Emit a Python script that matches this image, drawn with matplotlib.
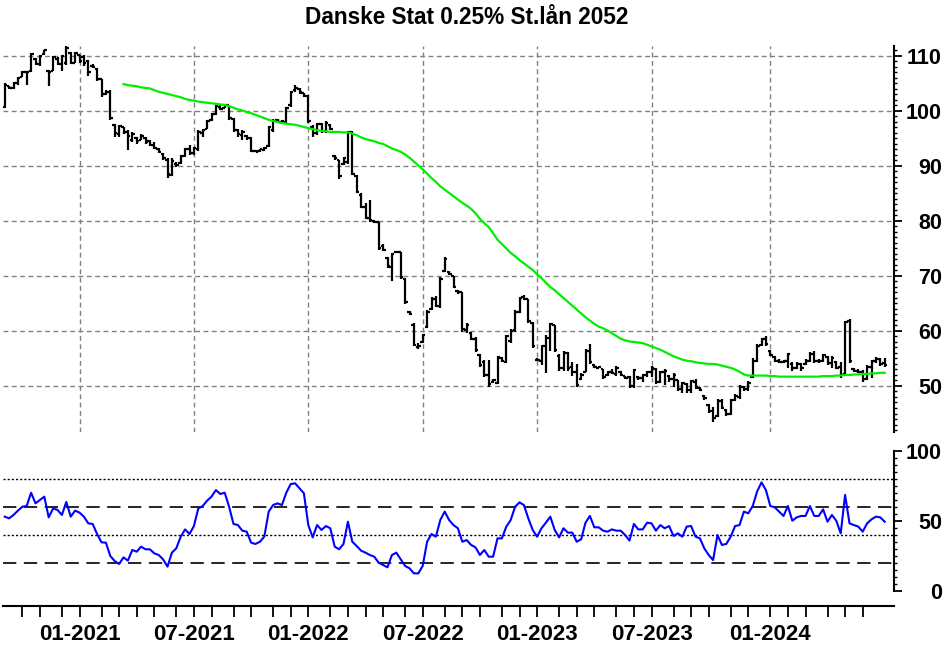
import matplotlib
matplotlib.use('Agg')
import matplotlib.pyplot as plt
import numpy as np
import pandas as pd

plt.rcParams['font.family'] = ['Liberation Sans', 'DejaVu Sans']

title = "Danske Stat 0.25% St.lån 2052"
start_date = "2020-09-06"   # weekly bars

high = [105.0,104.6,105.2,106.2,107.2,107.2,110.5,109.6,110.2,111.1,
        107.5,110.0,109.9,110.2,111.8,110.8,110.8,110.2,110.2,109.3,
        108.5,107.8,105.9,103.8,103.8,97.6,97.5,97.0,96.5,96.1,
        95.3,95.9,95.3,94.8,94.4,93.2,92.3,91.4,91.4,90.8,
        92.0,93.2,93.8,93.5,96.5,96.8,98.4,99.6,101.1,101.1,
        101.1,101.1,98.7,96.8,96.5,95.6,95.2,92.9,93.1,93.5,
        97.2,98.5,98.5,98.4,100.8,103.7,104.7,104.1,103.3,102.9,
        97.5,97.9,97.9,98.1,97.6,92.0,91.1,91.7,96.4,96.4,
        88.4,85.0,83.2,83.8,80.2,79.9,75.9,73.5,74.2,74.4,
        74.4,69.7,63.7,61.4,57.8,59.5,63.8,66.1,66.3,69.9,
        73.5,70.9,70.0,67.4,67.0,61.4,59.8,58.9,55.8,54.7,
        54.7,51.2,55.5,55.3,59.3,60.3,63.8,66.2,66.5,65.9,
        61.7,55.0,57.5,59.3,61.4,61.1,55.8,56.3,56.1,54.3,
        54.0,52.3,56.7,57.7,54.0,53.7,53.1,52.8,53.1,53.6,
        52.8,51.9,51.9,53.1,51.9,52.2,52.8,53.6,53.3,52.8,
        53.0,52.0,52.3,51.1,50.8,50.5,51.1,51.3,49.8,48.3,
        46.7,46.1,47.6,47.6,45.8,47.6,48.5,50.1,50.0,50.9,
        55.1,57.6,58.7,59.0,56.6,55.4,54.9,54.7,56.0,54.3,
        54.3,54.2,54.9,56.1,56.3,54.9,55.9,55.4,55.4,54.5,
        54.3,61.9,62.2,53.2,53.0,52.9,53.8,54.8,55.2,55.0,
        55.1]
low = [100.5,104.0,104.0,104.8,106.1,104.7,107.0,108.4,108.2,110.2,
       104.6,107.2,108.4,107.3,108.4,108.5,108.7,108.7,108.1,106.4,
       107.8,105.5,102.6,102.9,98.4,95.3,95.3,95.8,92.9,94.4,
       94.0,94.7,94.0,93.6,93.0,92.4,91.1,87.9,88.2,89.9,
       90.4,91.7,92.0,92.0,92.8,95.3,96.7,98.1,99.3,100.2,
       100.5,98.4,96.2,95.2,94.7,94.7,92.6,92.5,92.6,92.8,
       93.5,96.1,97.8,97.8,97.9,100.8,103.5,103.1,102.5,97.9,
       95.3,95.6,96.0,96.0,96.6,91.1,87.6,90.2,90.4,88.4,
       85.0,82.3,80.3,79.9,79.7,74.7,74.5,71.4,69.0,74.2,
       69.5,64.9,62.9,57.2,56.7,57.8,60.5,63.8,64.3,64.2,
       70.8,70.2,67.8,66.8,59.9,59.7,58.4,56.2,53.4,51.7,
       49.8,50.5,50.4,54.4,54.1,57.8,59.9,63.2,65.6,61.5,
       56.9,54.6,53.8,52.3,56.3,56.1,52.8,52.8,52.8,51.9,
       49.8,51.0,52.5,54.0,53.3,53.2,51.3,51.9,52.1,51.9,
       51.8,51.3,49.6,49.6,51.0,50.7,51.6,51.6,50.3,50.5,
       50.2,50.8,49.9,49.0,48.8,48.8,48.7,49.4,49.0,47.5,
       45.1,43.4,44.3,45.8,44.6,44.7,47.3,47.6,49.1,49.1,
       51.5,54.3,57.2,57.3,55.4,54.3,54.1,54.1,53.3,52.8,
       53.0,52.8,53.9,54.3,54.2,54.2,54.3,53.9,53.3,53.0,
       51.5,52.2,54.2,52.6,52.3,50.8,51.1,51.4,54.2,53.6,
       53.5]
open_ = [100.8,104.6,104.2,105.0,106.2,107.0,107.2,109.5,108.6,110.4,
         107.3,107.3,109.5,108.6,108.8,110.5,108.8,110.2,109.8,109.0,
         108.2,107.6,105.8,103.0,103.5,97.4,95.8,97.0,96.2,94.8,
         95.0,94.8,95.0,94.5,93.8,93.0,92.2,91.0,88.4,90.4,
         90.5,91.8,93.0,92.4,93.0,96.0,96.8,98.3,99.5,100.8,
         100.6,101.0,98.5,96.5,95.6,95.4,95.0,92.7,92.7,92.9,
         93.6,96.5,98.3,98.0,98.0,101.0,103.8,104.0,103.2,102.7,
         97.0,96.0,97.6,96.4,97.4,91.8,91.0,90.4,90.8,96.2,
         88.2,84.8,82.6,80.5,80.0,79.8,75.5,73.3,71.6,74.3,
         74.3,69.5,63.5,61.0,57.0,58.0,60.7,64.0,65.8,64.6,
         70.9,70.8,70.0,67.2,67.0,60.2,59.6,58.6,55.6,54.4,
         52.0,50.8,50.6,55.0,54.3,58.2,60.2,63.5,66.2,65.8,
         61.5,54.8,54.6,57.3,58.8,61.0,55.5,53.3,56.0,53.5,
         52.5,51.2,52.6,56.4,53.8,53.3,53.0,52.0,52.6,52.2,
         52.6,51.8,51.6,50.0,51.6,51.4,52.0,52.5,53.0,50.8,
         52.5,51.8,51.2,51.0,49.4,50.3,49.2,50.8,49.6,48.2,
         46.5,45.5,44.5,47.2,45.6,45.0,47.5,48.0,49.8,49.4,
         51.6,54.6,57.4,58.6,56.4,55.2,54.6,54.3,54.5,54.0,
         53.3,54.0,54.0,54.6,55.9,54.6,54.5,55.2,54.2,54.4,
         53.4,52.2,61.8,53.0,52.8,52.5,51.2,53.5,54.6,54.9,
         54.2]
close = [104.8,104.2,105.0,106.0,107.0,107.1,110.3,108.6,110.0,111.0,
         107.0,109.8,108.6,110.0,111.5,108.8,110.6,109.0,108.8,107.0,
         108.0,105.8,103.0,103.5,98.8,96.0,97.2,96.2,95.5,95.8,
         94.5,95.5,94.3,93.8,93.2,92.6,91.4,88.5,90.9,90.2,
         91.8,93.0,92.4,93.2,96.2,96.6,98.2,99.4,100.9,100.4,
         101.0,98.8,96.5,95.8,96.2,95.0,92.8,92.6,93.0,93.3,
         97.0,98.2,98.0,98.2,100.6,103.5,104.2,103.4,102.8,98.2,
         96.0,97.7,96.3,97.9,96.8,91.4,88.2,91.5,96.2,88.6,
         85.3,82.6,80.6,80.2,79.9,75.0,74.8,71.8,74.0,74.3,
         69.8,65.2,63.0,57.5,57.2,59.2,63.5,65.8,64.6,69.5,
         73.0,70.4,68.0,67.0,60.3,61.0,58.6,56.5,53.8,52.0,
         50.3,51.0,55.2,54.6,59.0,60.0,63.5,66.0,65.8,61.8,
         57.2,54.8,57.3,58.8,61.2,56.5,53.3,56.0,53.2,52.5,
         50.2,52.0,56.4,54.3,53.5,53.5,51.6,52.6,52.3,53.3,
         52.0,51.5,50.0,52.9,51.4,52.0,52.5,53.3,50.8,52.5,
         52.8,51.2,52.0,49.4,50.5,49.2,50.9,49.8,49.2,47.8,
         45.4,44.2,47.3,46.0,45.0,47.4,48.2,49.8,49.4,50.6,
         54.6,57.3,58.5,57.6,55.6,54.6,54.3,54.5,55.8,53.2,
         54.0,53.2,54.6,55.9,54.6,54.5,55.7,54.2,55.0,53.3,
         52.0,61.7,54.5,52.8,52.5,51.2,53.5,54.6,54.9,54.0,
         53.8]

ma_start = 27
ma = [104.9,104.7,104.6,104.5,104.3,104.2,104.1,103.8,103.5,103.3,
      103.1,102.9,102.7,102.5,102.2,102.0,101.9,101.7,101.6,101.5,
      101.4,101.3,101.2,101.1,100.9,100.6,100.3,100.1,99.8,99.6,
      99.3,99.0,98.7,98.4,98.2,98.0,97.8,97.7,97.6,97.5,
      97.3,97.1,96.9,96.7,96.5,96.4,96.3,96.2,96.2,96.2,
      96.1,96.1,95.9,95.6,95.2,94.9,94.7,94.5,94.2,94.0,
      93.6,93.2,92.9,92.6,92.1,91.5,90.8,90.1,89.4,88.6,
      87.8,87.1,86.3,85.7,85.1,84.5,83.9,83.3,82.8,82.2,
      81.4,80.4,79.6,78.9,77.8,76.6,75.8,75.0,74.2,73.6,
      72.9,72.3,71.7,71.1,70.3,69.6,68.8,68.0,67.4,66.7,
      66.0,65.3,64.6,63.9,63.2,62.5,61.9,61.3,60.8,60.5,
      60.1,59.6,59.1,58.6,58.3,58.1,58.0,57.9,57.8,57.5,
      57.2,56.9,56.6,56.2,55.8,55.4,55.1,54.8,54.6,54.5,
      54.3,54.2,54.1,54.0,54.0,53.9,53.7,53.5,53.3,53.0,
      52.6,52.1,51.9,51.9,51.9,51.9,51.9,51.8,51.8,51.7,
      51.7,51.7,51.7,51.7,51.7,51.7,51.7,51.7,51.7,51.8,
      51.8,51.8,51.9,51.9,52.0,52.0,52.1,52.1,52.2,52.2,
      52.3,52.3,52.4,52.4]

rsi = [53.1,51.9,54.3,57.4,60.2,60.7,70.2,62.6,65.0,67.4,
       52.6,59.0,57.9,54.3,63.6,53.1,57.4,56.0,53.1,48.3,
       47.9,40.7,34.8,34.5,25.0,21.4,19.3,24.0,21.7,29.3,
       28.1,31.7,29.8,29.8,26.9,25.7,22.6,17.4,27.4,30.5,
       38.8,44.0,40.7,46.4,59.0,60.7,64.5,67.4,72.1,69.3,
       70.2,60.2,47.9,47.1,43.1,42.4,34.5,33.6,35.2,38.8,
       56.7,61.4,62.6,61.4,70.2,76.4,76.9,73.3,69.8,47.1,
       38.3,47.1,43.6,46.4,44.8,31.7,29.8,33.6,49.5,35.2,
       32.1,28.8,27.4,25.7,24.5,20.2,18.6,16.9,25.7,27.4,
       22.6,17.9,16.2,12.6,12.6,17.9,35.2,40.7,38.8,50.7,
       56.7,50.7,47.1,44.8,35.2,36.4,32.9,31.2,25.7,29.3,
       24.5,24.5,37.6,37.6,46.0,50.7,60.2,63.3,61.4,51.9,
       43.6,38.8,44.8,48.8,53.1,43.6,38.3,44.8,41.7,41.7,
       35.2,36.9,48.8,53.6,45.5,45.5,43.1,42.4,44.0,43.1,
       43.1,40.0,36.0,47.9,44.0,44.0,48.8,48.3,43.1,47.1,
       44.8,46.4,39.3,41.2,38.8,46.0,46.4,38.8,37.6,30.5,
       25.7,22.1,40.0,32.9,33.6,38.8,46.4,47.1,56.7,55.5,
       60.7,71.0,77.6,72.1,60.7,59.8,56.7,53.6,60.7,50.2,
       52.6,53.6,53.6,60.7,53.6,53.6,58.3,49.5,54.3,50.2,
       41.2,68.6,48.3,47.1,46.0,42.4,48.3,51.2,53.1,52.6,
       49.5]

rsi_dotted_levels = [80, 40]
rsi_dashed_levels = [60, 20]
price_ticks = [50, 60, 70, 80, 90, 100, 110]
rsi_ticks = [0, 50, 100]

# ---------------------------------------------------------------
n = len(close)
idx = np.arange(n)
dates = pd.date_range(start_date, periods=n, freq='7D')
# month boundaries (the final bar carries no tick in the source chart)
month_change = [i for i in range(1, n - 1) if dates[i].month != dates[i - 1].month]
major_idx = [i for i in month_change if dates[i].month in (1, 7)]
minor_idx = [i for i in month_change if dates[i].month not in (1, 7)]
major_lbl = [dates[i].strftime('%m-%Y') for i in major_idx]

W, H = 950, 650
fig = plt.figure(figsize=(W / 100, H / 100), dpi=100)

xl = ((3 - 4.7) / 4.4, (894 - 4.7) / 4.4)

ax1 = fig.add_axes([3 / W, 1 - 432 / H, 891 / W, (432 - 46) / H])
ax1.set_xlim(*xl)
ax1.set_ylim(110 - 376 / 5.5, 110 + 10 / 5.5)

grid_kw = dict(color='#808080', lw=1.0, ls=(0, (3.5, 2.5)), zorder=0)
for t in price_ticks:
    ax1.axhline(t, **grid_kw)
for i in major_idx:
    ax1.axvline(i, **grid_kw)

ax1.vlines(idx, low, high, color='black', lw=1.6, zorder=3)
ax1.hlines(open_, idx - 0.55, idx, color='black', lw=1.6, zorder=3)
ax1.hlines(close, idx, idx + 0.55, color='black', lw=1.6, zorder=3)

ax1.plot(np.arange(ma_start, ma_start + len(ma)), ma, color='#00ee00', lw=1.6, zorder=4)

for s in ['top', 'left', 'bottom']:
    ax1.spines[s].set_visible(False)
ax1.spines['right'].set_linewidth(1.5)
ax1.set_xticks([])
ax1.yaxis.tick_right()
ax1.set_yticks(price_ticks)
ax1.set_yticks(np.arange(42, 112, 1), minor=True)
ax1.tick_params(axis='y', which='major', length=5.5, width=1.3, pad=29,
                labelsize=15.5)
ax1.tick_params(axis='y', which='minor', length=2.5, width=1.0)
for lab in ax1.get_yticklabels():
    lab.set_fontweight('bold')
    lab.set_horizontalalignment('right')

# RSI panel
ax2 = fig.add_axes([3 / W, 1 - 606 / H, 891 / W, (606 - 446) / H])
ax2.set_xlim(*xl)
ax2.set_ylim((591 - 606) / 1.4, (591 - 446) / 1.4)
for lv in rsi_dotted_levels:
    ax2.axhline(lv, color='black', lw=1.0, ls=(0, (1.5, 1.5)), zorder=1)
for lv in rsi_dashed_levels:
    ax2.axhline(lv, color='black', lw=1.2, ls=(0, (8, 4.5)), zorder=1)
ax2.plot(idx, rsi, color='#0000ff', lw=1.5, zorder=3)

for s in ['top', 'left']:
    ax2.spines[s].set_visible(False)
ax2.spines['right'].set_bounds(0, 100)
ax2.spines['right'].set_linewidth(1.5)
ax2.spines['bottom'].set_linewidth(1.5)
ax2.yaxis.tick_right()
ax2.set_yticks(rsi_ticks)
ax2.set_yticks(np.arange(0, 101, 5), minor=True)
ax2.tick_params(axis='y', which='major', length=5.5, width=1.3, pad=29,
                labelsize=15.5)
ax2.tick_params(axis='y', which='minor', length=2.5, width=1.0)
for lab in ax2.get_yticklabels():
    lab.set_fontweight('bold')
    lab.set_horizontalalignment('right')

ax2.set_xticks(major_idx)
ax2.set_xticklabels(major_lbl)
ax2.set_xticks(minor_idx, minor=True)
ax2.tick_params(axis='x', which='both', length=8, width=1.3, direction='out')
ax2.tick_params(axis='x', which='major', labelsize=16, pad=5)
for lab in ax2.get_xticklabels():
    lab.set_fontweight('bold')

fig.text(467 / W, 1 - 18 / H, title, ha='center', va='center',
         fontsize=16.3, fontweight='bold')

fig.savefig('out.png', dpi=100)
